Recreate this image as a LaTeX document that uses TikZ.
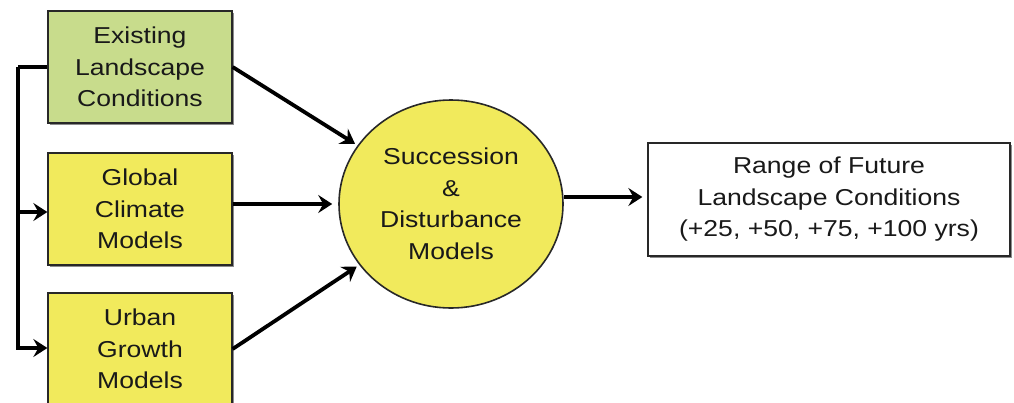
\documentclass[tikz,border=0pt]{standalone}
\usepackage{fontspec}
\setmainfont{Liberation Sans}[FakeStretch=1.155]
\usetikzlibrary{arrows.meta,shapes.geometric,shadows}
\definecolor{boxgreen}{RGB}{200,220,140}
\definecolor{boxyellow}{RGB}{241,234,92}
\definecolor{edgegray}{RGB}{40,40,40}
\tikzset{
  txt/.style={font=\fontsize{23}{31.5}\selectfont, align=center, text=black!90},
  shade/.style={drop shadow={shadow xshift=2pt, shadow yshift=-2pt, fill=black, opacity=0.45}},
  inbox/.style={txt, rectangle, draw=edgegray, line width=1.3pt, minimum width=184pt, minimum height=112pt, inner sep=0pt, shade},
  circ/.style={txt, ellipse, draw=edgegray, line width=1.6pt, fill=boxyellow, minimum width=224pt, minimum height=208pt, inner sep=0pt},
  outbox/.style={txt, rectangle, draw=edgegray, line width=1.3pt, fill=white, minimum width=362pt, minimum height=113pt, inner sep=0pt, shade},
  conn/.style={line width=3.8pt, -{Stealth[length=14pt,width=18pt,inset=5pt]}},
  plain/.style={line width=3.8pt}
}
\begin{document}
\begin{tikzpicture}[x=1pt,y=-1pt]
\useasboundingbox (0,0) rectangle (1014,402);
\clip (0,0) rectangle (1014,402);
\fill[white] (0,0) rectangle (1014,402);
\node[inbox, fill=boxgreen] (e1) at (140,67) {Existing\\Landscape\\Conditions};
\node[inbox, fill=boxyellow] (e2) at (140,209) {Global\\Climate\\Models};
\node[inbox, fill=boxyellow] (e3) at (140,349) {Urban\\Growth\\Models};
\node[circ] (sd) at (451,204) {Succession\\\&\\Disturbance\\Models};
\node[outbox] (rb) at (829,199.5) {Range of Future\\Landscape Conditions\\(+25, +50, +75, +100 yrs)};
\coordinate (c) at (18,67);
\coordinate (e2in) at ([yshift=-3pt]e2.west);
\coordinate (e2out) at ([yshift=5pt]e2.east);
\coordinate (e3in) at ([yshift=1pt]e3.west);
\coordinate (rbin) at ([yshift=2.5pt]rb.west);
\draw[plain] (e1.west) -- (c);
\draw[conn, line join=miter] (c) |- (e3in);
\draw[conn] (c |- e2in) -- (e2in);
\draw[conn, shorten >=3pt] (e1.east) -- (sd);
\draw[conn, shorten >=6pt] (e2out) -- (e2out -| sd.west);
\draw[conn, shorten >=3pt] (e3.east) -- (sd);
\draw[conn, shorten >=5pt] (rbin -| sd.east) -- (rbin);
\end{tikzpicture}
\end{document}
